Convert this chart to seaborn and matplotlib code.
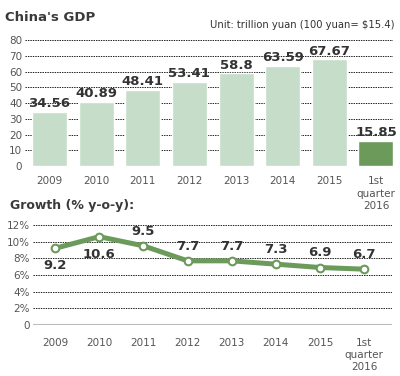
import numpy as np
import matplotlib
matplotlib.use("Agg")
import matplotlib.pyplot as plt
import seaborn as sns

# Données
periodes = ["2009", "2010", "2011", "2012", "2013", "2014", "2015", "1st\nquarter\n2016"]
pib = [34.56, 40.89, 48.41, 53.41, 58.8, 63.59, 67.67, 15.85]
pib_labels = ["34.56", "40.89", "48.41", "53.41", "58.8", "63.59", "67.67", "15.85"]
croissance = [9.2, 10.6, 9.5, 7.7, 7.7, 7.3, 6.9, 6.7]
croissance_labels = ["9.2", "10.6", "9.5", "7.7", "7.7", "7.3", "6.9", "6.7"]
# position du label : -1 sous le point, 1 au-dessus
croissance_pos = [-1, -1, 1, 1, 1, 1, 1, 1]
gdp_ticks = [0, 10, 20, 30, 40, 50, 60, 70, 80]
growth_ticks = [0, 2, 4, 6, 8, 10, 12]
growth_ticklabels = ["0", "2%", "4%", "6%", "8%", "10%", "12%"]

sns.set_style("white")
plt.rcParams["font.family"] = ["DejaVu Sans"]

vert_clair = "#c6ddc9"
vert_fonce = "#6b9a5b"
texte = "#333333"
gris = "#555555"

fig = plt.figure(figsize=(4.0, 3.76), dpi=100)

## Graphique du haut : PIB
ax1 = fig.add_axes([0.0625, 0.5585, 0.92, 0.335])
x = np.arange(len(periodes))
couleurs = [vert_clair] * (len(periodes) - 1) + [vert_fonce]
sns.barplot(x=x, y=pib, hue=x, palette=couleurs, legend=False, width=0.75,
            ax=ax1, zorder=3, saturation=1, native_scale=True)
ax1.set_ylim(0, 80)
ax1.set_xlim(-0.525, 7.365)
ax1.set_yticks(gdp_ticks)
for g in gdp_ticks[1:]:
    ax1.axhline(g, color="#222222", lw=0.7, ls=(0, (1.5, 1)), zorder=1)
ax1.set_xticks(x)
ax1.set_xticklabels(periodes, fontsize=7.5, color=gris, linespacing=1.35, va="top")
ax1.tick_params(axis="x", length=0, pad=7, labelsize=7.5, labelcolor=gris)
ax1.tick_params(axis="y", length=0, pad=2, labelsize=7.5, labelcolor=gris)
for sp in ax1.spines.values():
    sp.set_visible(False)
ax1.set_xlabel("")
ax1.set_ylabel("")
for xi, v, lab in zip(x, pib, pib_labels):
    ax1.text(xi, v + 1.2, lab, ha="center", va="bottom", fontsize=9.5,
             fontweight="bold", color=texte, zorder=4)

fig.text(0.0125, 0.945, "China's GDP", fontsize=9.5, fontweight="bold", color="#3a3a3a")
fig.text(0.985, 0.926, "Unit: trillion yuan (100 yuan= $15.4)", fontsize=7.2,
         color=texte, ha="right")

## Graphique du bas : croissance
ax2 = fig.add_axes([0.0825, 0.1356, 0.8975, 0.266])
sns.lineplot(x=x, y=croissance, ax=ax2, color=vert_fonce, lw=3.6, zorder=3,
             marker="o", markersize=5.5, markerfacecolor="white",
             markeredgecolor=vert_fonce, markeredgewidth=1.5)
ax2.set_ylim(0, 12)
ax2.set_xlim(-0.5, 7.63)
ax2.set_yticks(growth_ticks)
ax2.set_yticklabels(growth_ticklabels)
for g in growth_ticks[1:]:
    ax2.axhline(g, color="#222222", lw=0.7, ls=(0, (1.5, 1)), zorder=1)
ax2.axhline(0, color="#bbbbbb", lw=1.5, zorder=2)
ax2.set_xticks(x)
ax2.set_xticklabels(periodes, fontsize=7.5, color=gris, linespacing=1.25, va="top")
ax2.tick_params(axis="x", length=0, pad=9, labelsize=7.5, labelcolor=gris)
ax2.tick_params(axis="y", length=0, pad=2, labelsize=7.5, labelcolor=gris)
for sp in ax2.spines.values():
    sp.set_visible(False)
for xi, v, lab, pos in zip(x, croissance, croissance_labels, croissance_pos):
    if pos > 0:
        ax2.text(xi, v + 1.0, lab, ha="center", va="bottom", fontsize=9.5,
                 fontweight="bold", color=texte, zorder=4)
    else:
        ax2.text(xi, v - 1.3, lab, ha="center", va="top", fontsize=9.5,
                 fontweight="bold", color=texte, zorder=4)

fig.text(0.025, 0.445, "Growth (% y-o-y):", fontsize=9, fontweight="bold", color="#3a3a3a")

fig.savefig("out.png", dpi=100)
